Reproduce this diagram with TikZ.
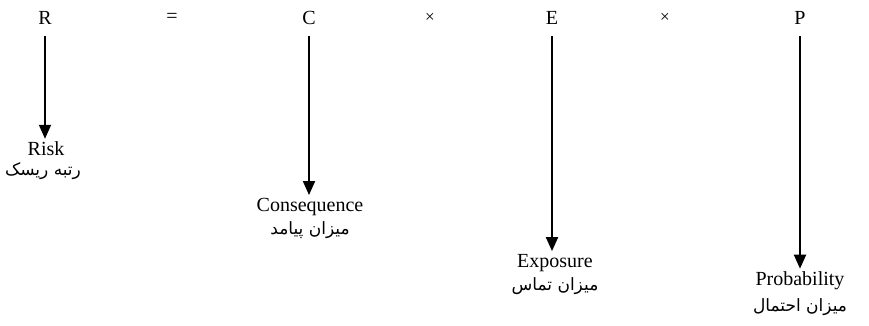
\documentclass[tikz,border=0pt]{standalone}
\usepackage{fontspec}
\setmainfont{Liberation Serif}
\newfontfamily\farsi[Script=Arabic]{DejaVu Sans}
\TeXXeTstate=1
\usetikzlibrary{arrows.meta}
\tikzset{>={Triangle[length=14pt,width=12pt]},every node/.style={font=\fontsize{20}{24}\selectfont,inner sep=2pt},
 fa/.style={font=\farsi\fontsize{17}{20}\selectfont},op/.style={font=\fontsize{17}{20}\selectfont},
 flow/.style={line width=1.9pt,->,shorten <=9pt,shorten >=1pt}}
\begin{document}
\begin{tikzpicture}[x=1pt,y=-1pt]
\useasboundingbox (0,0) rectangle (869,325);
% the formula
\node (R) at (45,18) {R};
\node (eq) at (172,18) {=};
\node (C) at (309,18) {C};
\node[op] (x1) at (430,18) {×};
\node (E) at (552,18) {E};
\node[op] (x2) at (665,18) {×};
\node (P) at (800,18) {P};
% meanings
\node (risk) at (46,149) {Risk};
\node[fa] (riskfa) at (43,171) {\beginR رتبه ریسک\endR};
\node (cons) at (310,207) {Consequence};
\node[fa] (consfa) at (310,230) {\beginR میزان پیامد\endR};
\node (expo) at (555,263) {Exposure};
\node[fa] (expofa) at (555,286) {\beginR میزان تماس\endR};
\node (prob) at (800,281) {Probability};
\node[fa] (probfa) at (800,307) {\beginR میزان احتمال\endR};
\draw[flow] (R) -- (R |- risk.north);
\draw[flow] (C) -- (C |- cons.north);
\draw[flow] (E) -- (E |- expo.north);
\draw[flow] (P) -- (P |- prob.north);
\end{tikzpicture}
\end{document}
